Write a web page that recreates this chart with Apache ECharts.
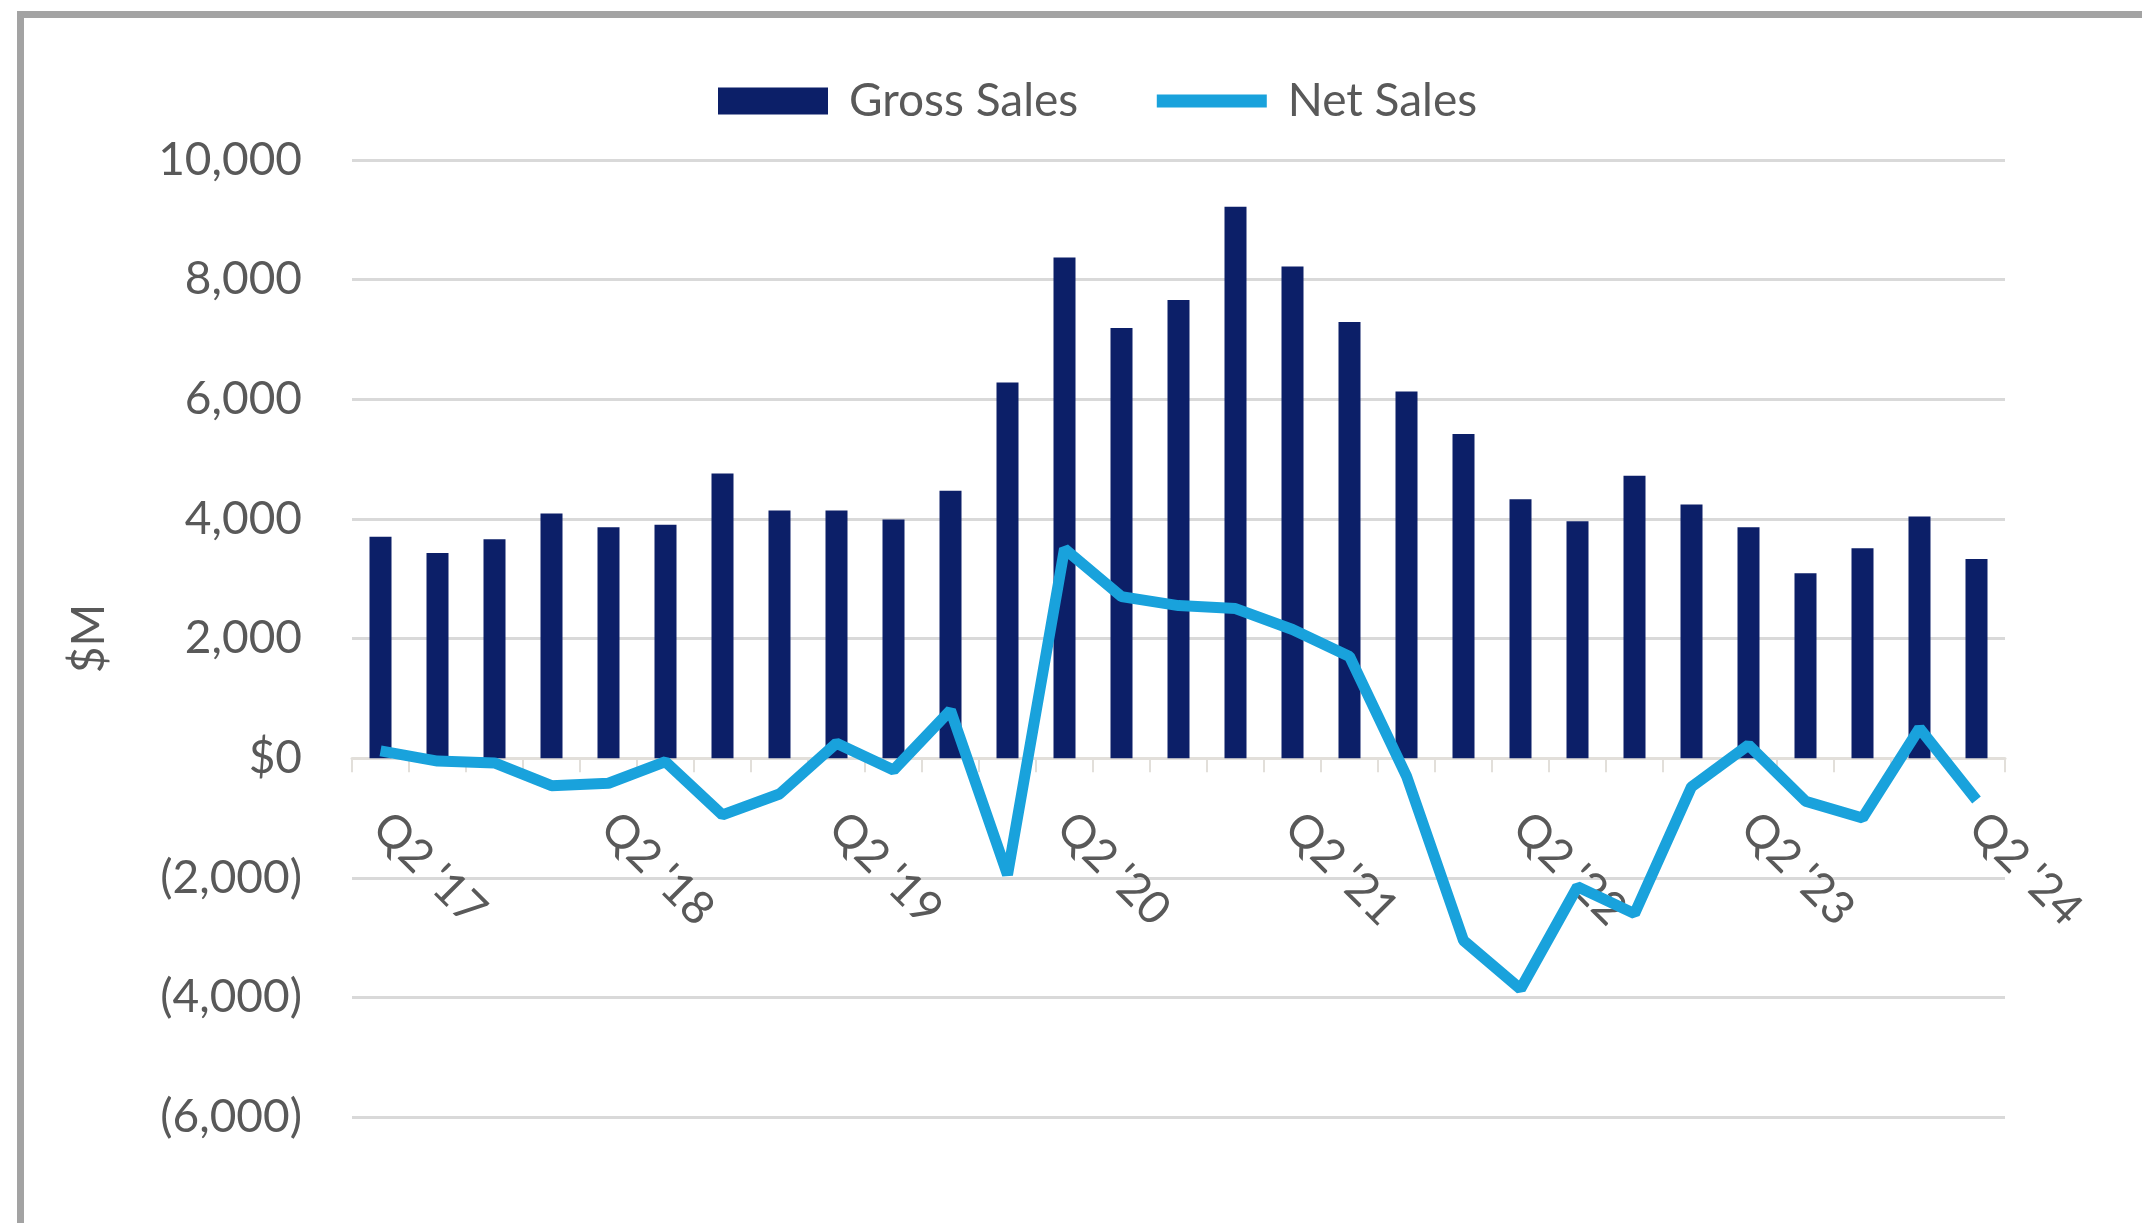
<!DOCTYPE html>
<html>
<head>
<meta charset="utf-8">
<script src="https://cdn.jsdelivr.net/npm/echarts@6/dist/echarts.min.js"></script>
<style>
html,body{margin:0;padding:0;background:#fff;}
#chart{width:2142px;height:1223px;}
</style>
</head>
<body>
<div id="chart"></div>
<script>
const categories = ["Q2 '17","Q3 '17","Q4 '17","Q1 '18","Q2 '18","Q3 '18","Q4 '18","Q1 '19","Q2 '19","Q3 '19","Q4 '19","Q1 '20","Q2 '20","Q3 '20","Q4 '20","Q1 '21","Q2 '21","Q3 '21","Q4 '21","Q1 '22","Q2 '22","Q3 '22","Q4 '22","Q1 '23","Q2 '23","Q3 '23","Q4 '23","Q1 '24","Q2 '24"];
const grossSales = [3700,3430,3660,4090,3860,3900,4760,4140,4140,3990,4470,6280,8370,7190,7660,9220,8220,7290,6130,5420,4330,3960,4720,4240,3860,3090,3510,4040,3330];
const netSales = [120,-50,-80,-460,-420,-60,-950,-600,250,-200,800,-1950,3500,2700,2550,2500,2150,1700,-300,-3050,-3860,-2150,-2600,-480,220,-720,-1000,500,-700];
const yTicks = {min:-6000, max:10000, interval:2000};

const chart = echarts.init(document.getElementById('chart'));
const fmt = v => {
  if (v === 0) return '$0';
  const s = Math.abs(v).toLocaleString('en-US');
  return v < 0 ? '(' + s + ')' : s;
};
const FONT = 'Lato';
const TXT = '#595959';
const GRID = {left: 352, right: 137, top: 160, bottom: 106};
chart.setOption({
  backgroundColor: '#ffffff',
  animation: false,
  graphic: [{
    type: 'rect', left: 17, top: 11,
    shape: {width: 2200, height: 1300},
    style: {fill: 'none', stroke: '#a3a3a3', lineWidth: 7},
    z: 100
  }],
  legend: {
    top: 71, left: 713,
    itemWidth: 110, itemHeight: 27, itemGap: 72,
    textStyle: {fontFamily: FONT, fontSize: 46, color: TXT, padding: [0,0,0,16], lineHeight: 50},
    data: [
      {name: 'Gross Sales', icon: 'rect'},
      {name: 'Net Sales', lineStyle: {width: 13, color: '#19a2dc'}, itemStyle: {opacity: 0}}
    ]
  },
  grid: Object.assign({containLabel: false, outerBoundsMode: 'none'}, GRID),
  xAxis: {
    type: 'category',
    data: categories,
    boundaryGap: true,
    axisLine: {onZero: false, lineStyle: {color: '#e2dfda', width: 3}},
    axisTick: {show: true, interval: 0, length: 14, lineStyle: {color: '#e2dfda', width: 2}},
    axisLabel: {interval: 3, rotate: -45, margin: 62, fontFamily: FONT, fontSize: 46, color: TXT}
  },
  yAxis: {
    type: 'value',
    min: yTicks.min, max: yTicks.max, interval: yTicks.interval,
    name: '$M', nameLocation: 'middle', nameRotate: 90, nameGap: 240,
    nameTextStyle: {fontFamily: FONT, fontSize: 46, color: TXT},
    axisLine: {show: false}, axisTick: {show: false},
    splitLine: {lineStyle: {color: '#d9d9d9', width: 3}},
    axisLabel: {formatter: fmt, margin: 50, fontFamily: FONT, fontSize: 46, color: TXT}
  },
  series: [
    {
      name: 'Gross Sales', type: 'bar', data: grossSales,
      barWidth: 22, itemStyle: {color: '#0c1f68'}, z: 2
    },
    {
      name: 'Net Sales', type: 'line', data: netSales,
      symbol: 'none', lineStyle: {color: '#19a2dc', width: 11},
      itemStyle: {color: '#19a2dc'}, z: 3
    }
  ]
});
// place the category axis on the value axis' zero line (measured in the same layout)
const zeroY = chart.convertToPixel({yAxisIndex: 0}, 0);
const minY = chart.convertToPixel({yAxisIndex: 0}, yTicks.min);
chart.setOption({xAxis: {offset: -(minY - zeroY)}});
</script>
</body>
</html>
